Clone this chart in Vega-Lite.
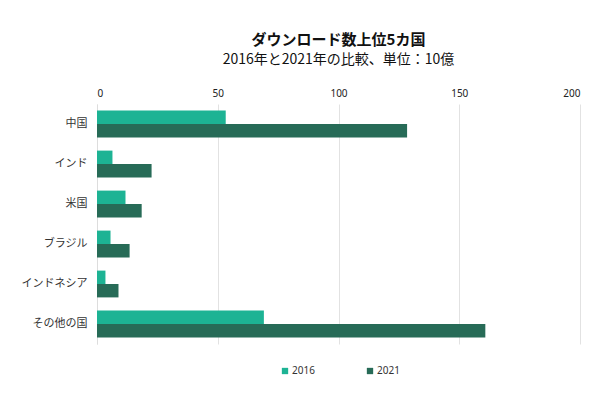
{
  "$schema": "https://vega.github.io/schema/vega-lite/v6.json",
  "width": 483,
  "height": 240,
  "autosize": "none",
  "padding": {"left": 97, "top": 104, "right": 31, "bottom": 50},
  "background": "white",
  "title": {
    "text": "ダウンロード数上位5カ国",
    "subtitle": "2016年と2021年の比較、単位：10億",
    "anchor": "middle",
    "font": "Noto Sans CJK JP",
    "fontSize": 15,
    "fontWeight": "bold",
    "color": "#111111",
    "subtitleFont": "Noto Sans CJK JP",
    "subtitleFontSize": 14,
    "subtitleColor": "#111111",
    "subtitlePadding": 5,
    "offset": 21
  },
  "data": {
    "values": [
      {"country": "中国", "year": "2016", "downloads": 53.3},
      {"country": "中国", "year": "2021", "downloads": 128.4},
      {"country": "インド", "year": "2016", "downloads": 6.4},
      {"country": "インド", "year": "2021", "downloads": 22.6},
      {"country": "米国", "year": "2016", "downloads": 11.8},
      {"country": "米国", "year": "2021", "downloads": 18.5},
      {"country": "ブラジル", "year": "2016", "downloads": 5.6},
      {"country": "ブラジル", "year": "2021", "downloads": 13.5},
      {"country": "インドネシア", "year": "2016", "downloads": 3.5},
      {"country": "インドネシア", "year": "2021", "downloads": 8.9},
      {"country": "その他の国", "year": "2016", "downloads": 69.1},
      {"country": "その他の国", "year": "2021", "downloads": 160.8}
    ]
  },
  "mark": {"type": "bar"},
  "encoding": {
    "y": {
      "field": "country",
      "type": "nominal",
      "sort": ["中国", "インド", "米国", "ブラジル", "インドネシア", "その他の国"],
      "scale": {"paddingInner": 0.33, "paddingOuter": 0.165},
      "axis": {
        "title": null,
        "ticks": false,
        "labelPadding": 10,
        "labelFont": "Noto Sans CJK JP",
        "labelFontSize": 11,
        "labelColor": "#333333",
        "domainColor": "#dddddd",
        "grid": false
      }
    },
    "yOffset": {"field": "year", "type": "nominal", "scale": {"paddingInner": 0, "paddingOuter": 0}},
    "x": {
      "field": "downloads",
      "type": "quantitative",
      "scale": {"domain": [0, 200]},
      "axis": {
        "orient": "top",
        "title": null,
        "values": [0, 50, 100, 150, 200],
        "ticks": false,
        "domain": false,
        "labelPadding": 6,
        "labelFont": "Noto Sans",
        "labelFontSize": 10,
        "labelColor": "#222222",
        "gridColor": "#e2e2e2"
      }
    },
    "color": {
      "field": "year",
      "type": "nominal",
      "scale": {"domain": ["2016", "2021"], "range": ["#1db394", "#276b57"]},
      "legend": {
        "title": null,
        "orient": "none",
        "direction": "horizontal",
        "legendX": 183,
        "legendY": 262,
        "symbolType": "square",
        "symbolSize": 40,
        "columnPadding": 50,
        "labelFont": "Noto Sans",
        "labelFontSize": 10,
        "labelColor": "#333333",
        "labelOffset": 2
      }
    }
  },
  "config": {"view": {"stroke": null}}
}
